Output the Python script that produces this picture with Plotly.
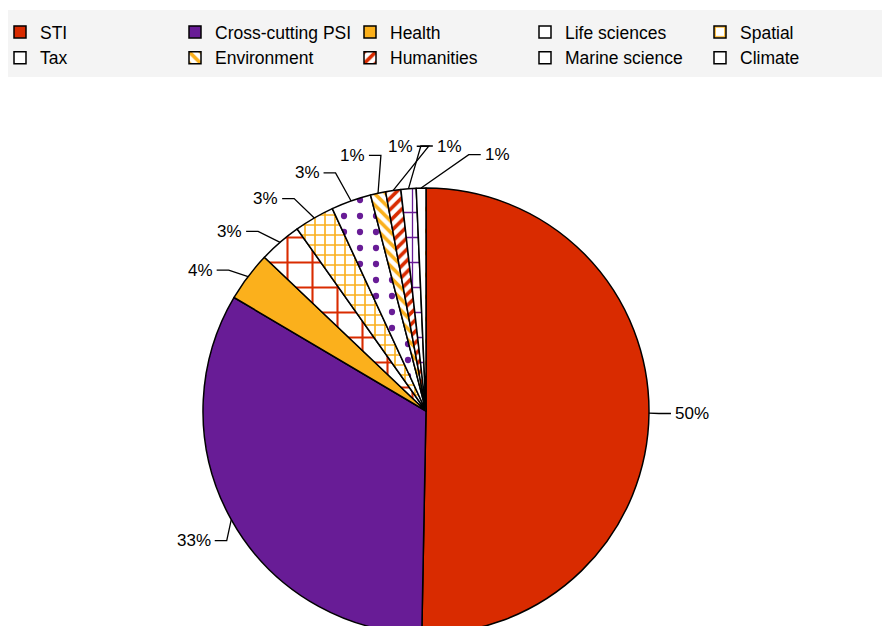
import math
import plotly.graph_objects as go

categories = ["STI", "Cross-cutting PSI", "Health", "Life sciences", "Spatial",
              "Tax", "Environment", "Humanities", "Marine science", "Climate"]
values = [50.3, 33.2, 3.6, 3.1, 2.9, 2.9, 1.1, 1.1, 1.1, 0.7]

RED = "#D92B00"
PURPLE = "#681C96"
ORANGE = "#FBB01C"

fg_colors = [RED, PURPLE, ORANGE, RED, ORANGE, PURPLE, ORANGE, RED, PURPLE, ORANGE]
bg_colors = [RED, PURPLE, ORANGE, "white", "white", "white", "white", "white", "white", "white"]
shapes = ["", "", "", "+", "+", ".", "\\", "/", "+", "."]
sizes = [8, 8, 8, 25, 10, 16, 8, 8, 25, 22]
solidities = [0.3, 0.3, 0.3, 0.16, 0.3, 0.12, 0.45, 0.45, 0.1, 0.1]

W, H = 882, 640
cx, cy, r = 426, 411, 223
R_TEXT = 266
LABEL_GAP = 10.5
FONT = "Liberation Sans, Arial, sans-serif"
FS = 17


def spread(mids, gap):
    """Keep label angles at least `gap` degrees apart (isotonic pooling)."""
    ys = [m - gap * i for i, m in enumerate(mids)]
    blocks = []
    for v in ys:
        blocks.append([v, 1])
        while len(blocks) > 1 and blocks[-2][0] / blocks[-2][1] > blocks[-1][0] / blocks[-1][1]:
            s, c = blocks.pop()
            blocks[-1][0] += s
            blocks[-1][1] += c
    zs = []
    for s, c in blocks:
        zs += [s / c] * c
    return [z + gap * i for i, z in enumerate(zs)]


total = sum(values)
mids, acc = [], 0.0
for v in values:
    mids.append((acc + v / 2) / total * 360.0)
    acc += v
label_angles = spread(mids, LABEL_GAP)


def px2paper(x, y):
    return x / W, 1 - y / H


annotations, layout_shapes = [], []

# legend background band
layout_shapes.append(dict(type="rect", xref="paper", yref="paper", layer="below",
                          x0=8 / W, x1=1, y0=1 - 77 / H, y1=1 - 10 / H,
                          fillcolor="#F4F4F4", line=dict(width=0)))

for v, th, ph in zip(values, mids, label_angles):
    txt = f"{round(v / total * 100):d}%"
    tw = FS * (0.556 * (len(txt) - 1) + 0.889)
    s_ph, c_ph = math.sin(math.radians(ph)), math.cos(math.radians(ph))
    tx, ty = cx + R_TEXT * s_ph, cy - R_TEXT * c_ph
    right = s_ph >= 0
    if right:
        ax_ = tx - tw / 2 - 4
        bx_ = ax_ - 12
    else:
        ax_ = tx + tw / 2 + 4
        bx_ = ax_ + 12
    ex = cx + r * math.sin(math.radians(th))
    ey = cy - r * math.cos(math.radians(th))
    p = [px2paper(ex, ey), px2paper(bx_, ty), px2paper(ax_, ty)]
    path = "M {:.5f} {:.5f} L {:.5f} {:.5f} L {:.5f} {:.5f}".format(*p[0], *p[1], *p[2])
    layout_shapes.append(dict(type="path", xref="paper", yref="paper", path=path,
                              line=dict(color="black", width=1.3)))
    axp, ayp = px2paper(tx, ty)
    annotations.append(dict(x=axp, y=ayp, xref="paper", yref="paper", text=txt,
                            showarrow=False, xanchor="center", yanchor="middle",
                            font=dict(family=FONT, size=FS, color="black")))

fig = go.Figure(go.Pie(
    labels=categories,
    values=values,
    sort=False,
    direction="clockwise",
    rotation=0,
    marker=dict(
        colors=bg_colors,
        line=dict(color="black", width=1.5),
        pattern=dict(shape=shapes, fgcolor=fg_colors, bgcolor=bg_colors,
                     size=sizes, solidity=solidities, fillmode="replace"),
    ),
    textinfo="none",
    domain=dict(x=[(cx - r) / W, (cx + r) / W],
                y=[(H - cy - r) / H, (H - cy + r) / H]),
    hoverinfo="label+percent",
))

fig.update_layout(
    width=W, height=H,
    margin=dict(l=0, r=0, t=0, b=0),
    paper_bgcolor="white",
    plot_bgcolor="white",
    font=dict(family=FONT, size=FS, color="black"),
    shapes=layout_shapes,
    annotations=annotations,
    legend=dict(
        orientation="h",
        xref="paper", yref="paper",
        x=0.0, y=1 - 14 / H, xanchor="left", yanchor="top",
        bgcolor="rgba(0,0,0,0)",
        entrywidth=130, entrywidthmode="pixels",
        font=dict(size=17.5),
        itemclick=False, itemdoubleclick=False,
        traceorder="normal",
    ),
    showlegend=True,
)

fig.write_html("out.html", post_script="document.documentElement.style.overflow='hidden';document.body.style.overflow='hidden';document.body.style.margin='0';")
